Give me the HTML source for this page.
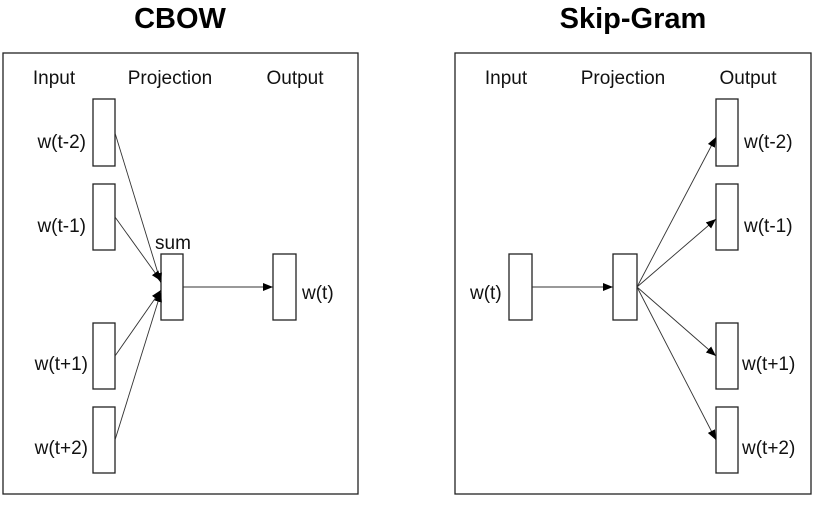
<!DOCTYPE html>
<html><head><style>html,body{margin:0;padding:0;background:#fff}svg{display:block}</style></head>
<body>
<svg width="820" height="505" viewBox="0 0 820 505" xmlns="http://www.w3.org/2000/svg" font-family="'Liberation Sans', sans-serif">
<defs>
<marker id="a" markerWidth="10" markerHeight="8" refX="10" refY="4" orient="auto" markerUnits="userSpaceOnUse">
<path d="M0,0 L10,4 L0,8 Z" fill="#000"/>
</marker>
</defs>
<g fill="#000">
<text x="180" y="28" font-size="29" font-weight="bold" text-anchor="middle">CBOW</text>
<text x="633" y="28" font-size="29" font-weight="bold" text-anchor="middle">Skip-Gram</text>
</g>
<g fill="none" stroke="#222" stroke-width="1.3">
<rect x="3" y="53" width="355" height="441"/>
<rect x="455" y="53" width="356" height="441"/>
<rect x="93" y="99" width="22" height="67"/>
<rect x="93" y="184" width="22" height="66"/>
<rect x="93" y="323" width="22" height="66"/>
<rect x="93" y="407" width="22" height="66"/>
<rect x="161" y="254" width="22" height="66"/>
<rect x="273" y="254" width="23" height="66"/>
<rect x="509" y="254" width="23" height="66"/>
<rect x="613" y="254" width="24" height="66"/>
<rect x="716" y="99" width="22" height="67"/>
<rect x="716" y="184" width="22" height="66"/>
<rect x="716" y="323" width="22" height="66"/>
<rect x="716" y="407" width="22" height="66"/>
</g>
<g stroke="#333" stroke-width="0.9" fill="none">
<line x1="115" y1="133" x2="161" y2="283" marker-end="url(#a)"/>
<line x1="115" y1="217" x2="161" y2="281" marker-end="url(#a)"/>
<line x1="115" y1="356" x2="161" y2="290" marker-end="url(#a)"/>
<line x1="115" y1="440" x2="161" y2="292" marker-end="url(#a)"/>
<line x1="183" y1="287" x2="273" y2="287" marker-end="url(#a)"/>
<line x1="532" y1="287" x2="613" y2="287" marker-end="url(#a)"/>
<line x1="637" y1="287" x2="716" y2="137" marker-end="url(#a)"/>
<line x1="637" y1="287" x2="716" y2="219" marker-end="url(#a)"/>
<line x1="637" y1="287" x2="716" y2="356" marker-end="url(#a)"/>
<line x1="637" y1="287" x2="716" y2="440" marker-end="url(#a)"/>
</g>
<g fill="#111" font-size="19">
<text x="54" y="84" text-anchor="middle">Input</text>
<text x="170" y="84" text-anchor="middle">Projection</text>
<text x="295" y="84" text-anchor="middle">Output</text>
<text x="506" y="84" text-anchor="middle">Input</text>
<text x="623" y="84" text-anchor="middle">Projection</text>
<text x="748" y="84" text-anchor="middle">Output</text>
<text x="86" y="148" text-anchor="end">w(t-2)</text>
<text x="86" y="232" text-anchor="end">w(t-1)</text>
<text x="88" y="370" text-anchor="end">w(t+1)</text>
<text x="88" y="454" text-anchor="end">w(t+2)</text>
<text x="155" y="249">sum</text>
<text x="302" y="299">w(t)</text>
<text x="470" y="299">w(t)</text>
<text x="744" y="148">w(t-2)</text>
<text x="744" y="232">w(t-1)</text>
<text x="742" y="370">w(t+1)</text>
<text x="742" y="454">w(t+2)</text>
</g>
</svg>
</body></html>
